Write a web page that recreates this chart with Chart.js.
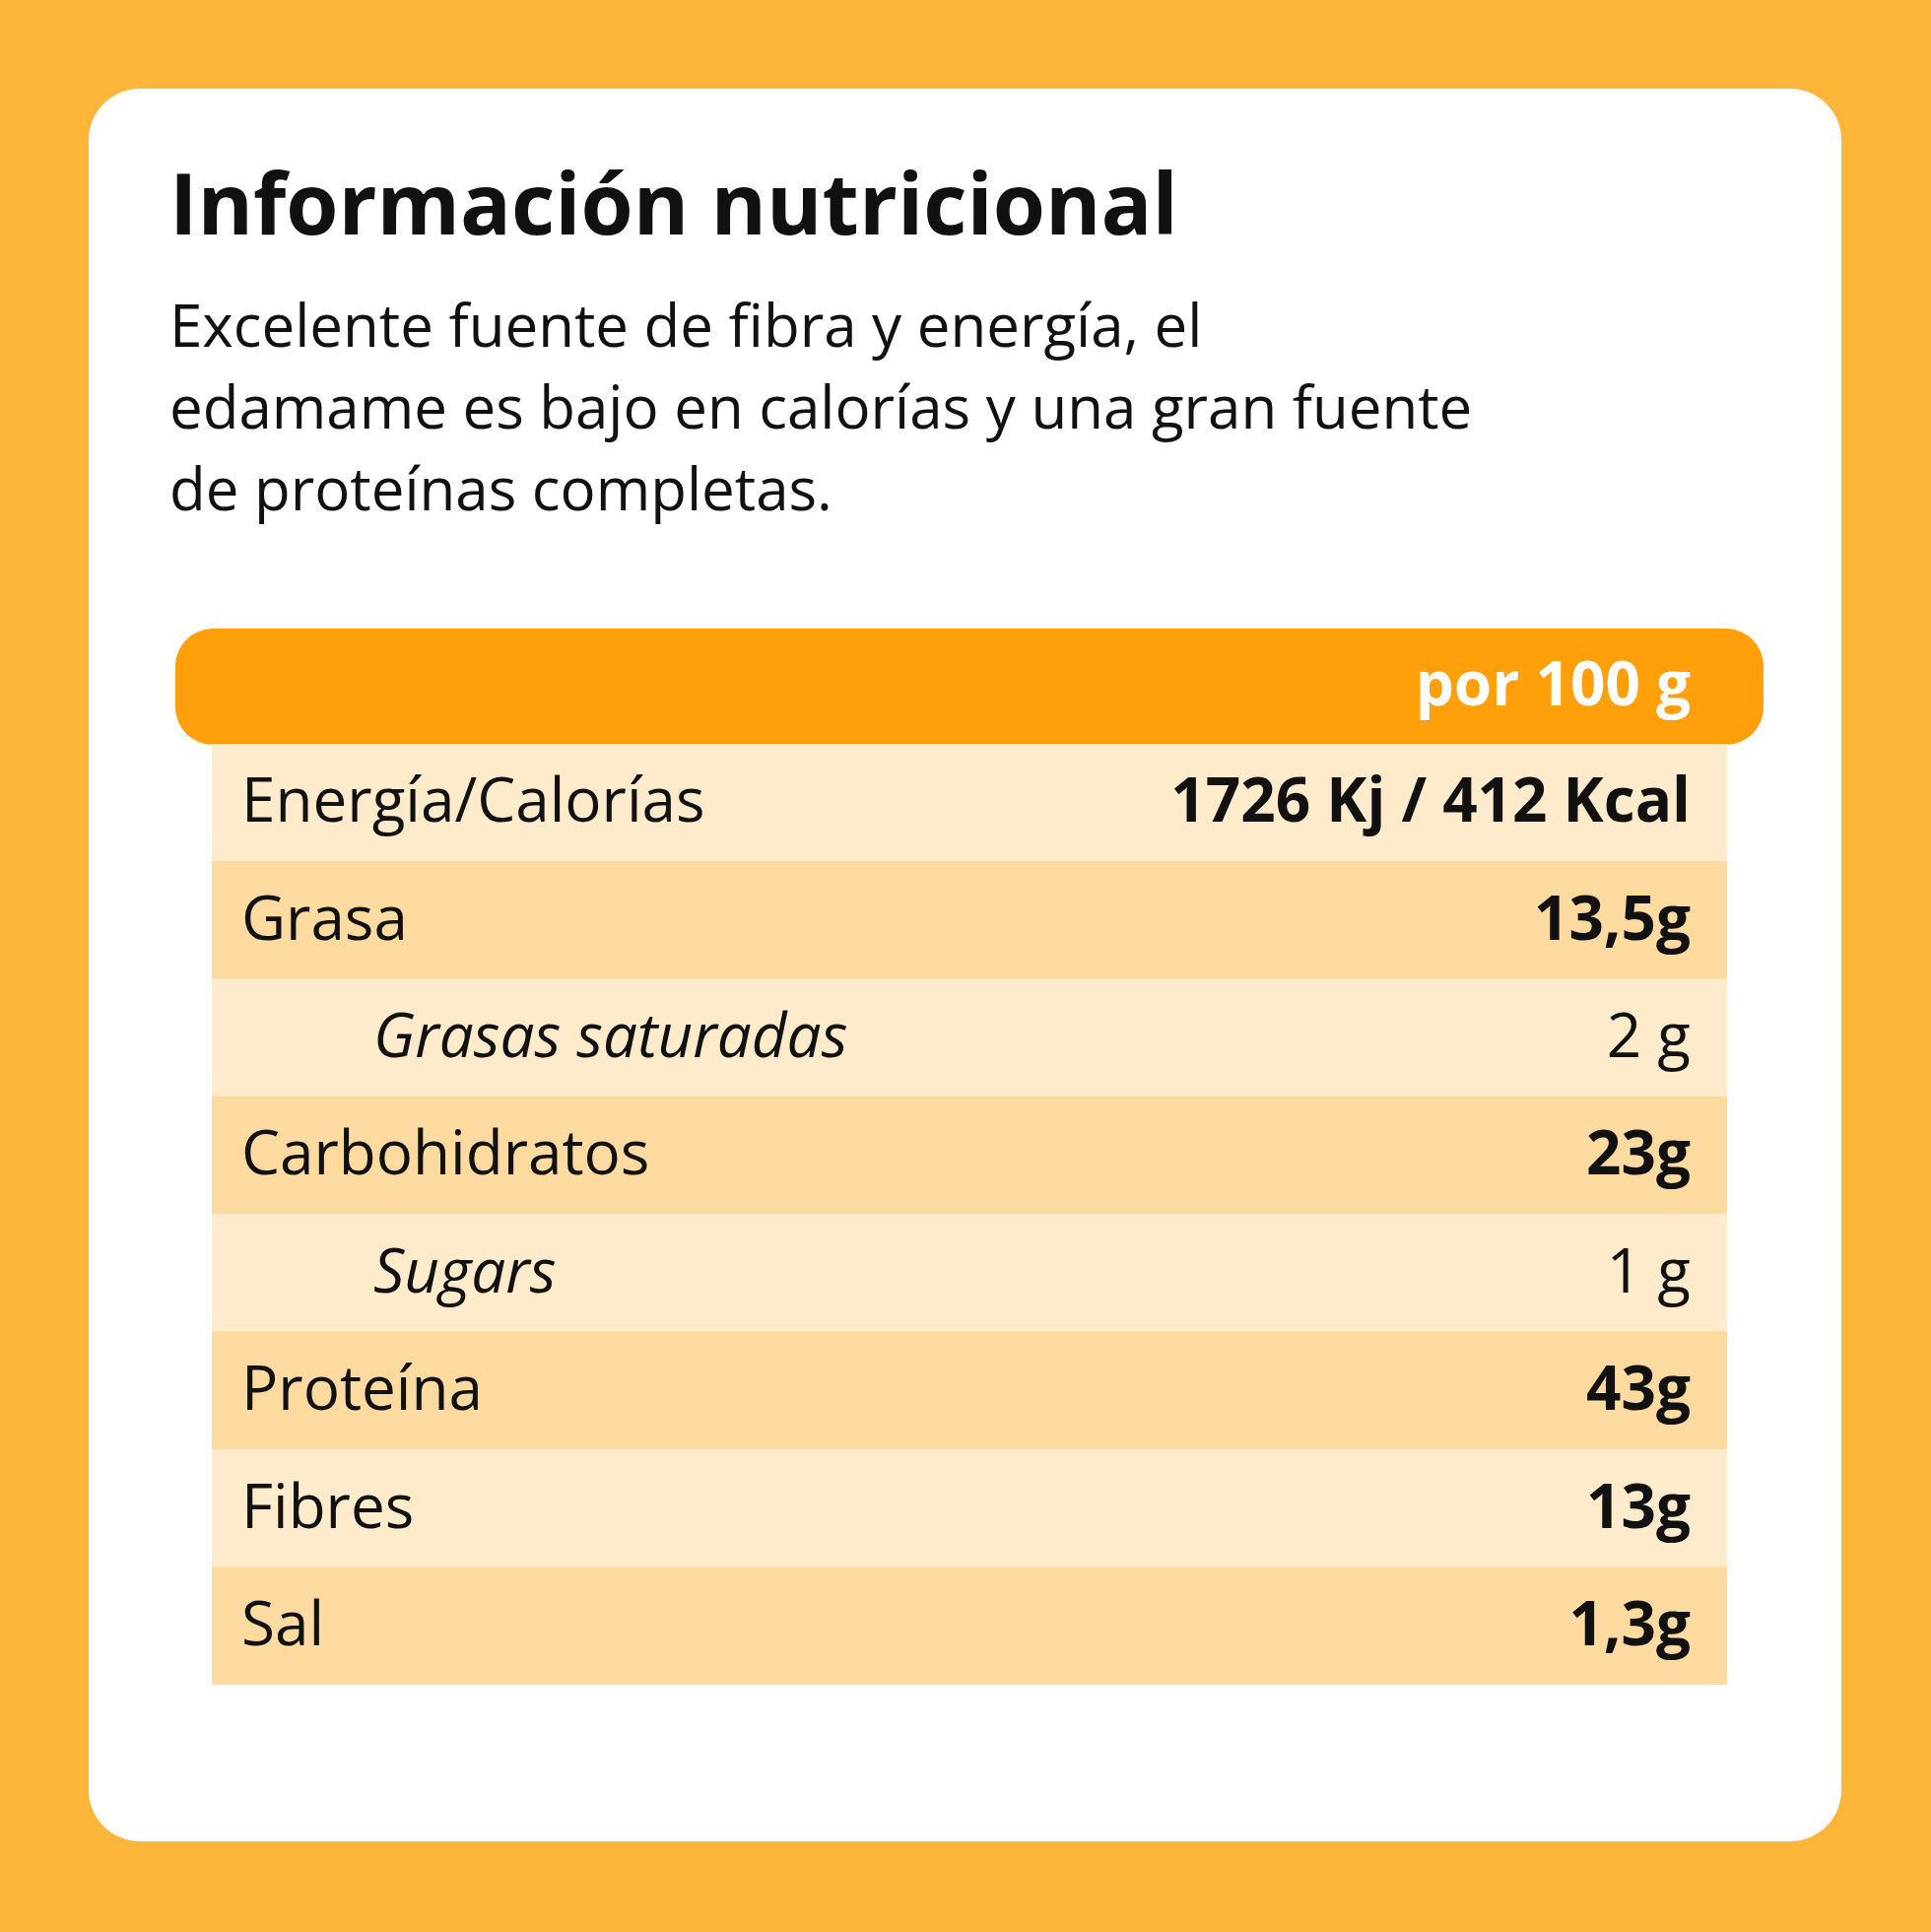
<!DOCTYPE html>
<html><head><meta charset="utf-8">
<script src="https://cdn.jsdelivr.net/npm/chart.js@4"></script>
<style>html,body{margin:0;padding:0;background:#FDB53A;}#w{width:1960px;height:1961px;}</style>
</head><body><div id="w"><canvas id="c" width="1960" height="1961"></canvas></div>
<script>
const title = "Información nutricional";
const subtitleLines = ["Excelente fuente de fibra y energía, el","edamame es bajo en calorías y una gran fuente","de proteínas completas."];
const headerLabel = "por 100 g";
const rowLabels = ["Energía/Calorías","Grasa","Grasas saturadas","Carbohidratos","Sugars","Proteína","Fibres","Sal"];
const rowValues = ["1726 Kj / 412 Kcal","13,5g","2 g","23g","1 g","43g","13g","1,3g"];
const rowSub = [false,false,true,false,true,false,false,false];
const rowFill = rowLabels.map(()=>1);
const FONT = '"Open Sans", sans-serif';

function rr(ctx,x,y,w,h,r){ctx.beginPath();ctx.moveTo(x+r,y);ctx.arcTo(x+w,y,x+w,y+h,r);ctx.arcTo(x+w,y+h,x,y+h,r);ctx.arcTo(x,y+h,x,y,r);ctx.arcTo(x,y,x+w,y,r);ctx.closePath();}

const deco = {
  id:'deco',
  beforeDraw(chart){
    const ctx=chart.ctx;
    ctx.save();
    ctx.fillStyle='#FDB53A';ctx.fillRect(0,0,1960,1961);
    ctx.fillStyle='#FFFFFF';rr(ctx,90,90,1779,1779,52);ctx.fill();
    ctx.fillStyle='#111111';ctx.textBaseline='alphabetic';
    ctx.font='bold 86px '+FONT;ctx.fillText(title,172,238);
    ctx.font='60px '+FONT;
    subtitleLines.forEach((l,i)=>ctx.fillText(l,172,352+i*83));
    ctx.fillStyle='#FF9F0A';rr(ctx,178,638,1612,118,38);ctx.fill();
    ctx.fillStyle='#FFFFFF';ctx.font='bold 62px '+FONT;ctx.textAlign='right';ctx.textBaseline='middle';
    ctx.fillText(headerLabel,1716,698);
    ctx.restore();
  },
  afterDatasetsDraw(chart){
    const ctx=chart.ctx, y=chart.scales.y, ca=chart.chartArea;
    ctx.save();ctx.fillStyle='#111111';ctx.textBaseline='middle';
    rowLabels.forEach((l,i)=>{
      const cy=y.getPixelForValue(i)+2;
      ctx.textAlign='left';
      ctx.font=(rowSub[i]?'italic ':'')+'62px '+FONT;
      ctx.fillText(l,rowSub[i]?379:245,cy);
      ctx.textAlign='right';
      ctx.font=(rowSub[i]?'':'bold ')+'62px '+FONT;
      ctx.fillText(rowValues[i],1716,cy);
    });
    ctx.restore();
  }
};

new Chart(document.getElementById('c'),{
  type:'bar',
  data:{labels:rowLabels,datasets:[{data:rowFill,backgroundColor:rowLabels.map((_,i)=>i%2?'#FDDA9F':'#FEEBCB'),barPercentage:1,categoryPercentage:1,borderWidth:0}]},
  options:{indexAxis:'y',responsive:false,animation:false,devicePixelRatio:1,
    layout:{padding:{left:215,right:207,top:755,bottom:251}},
    plugins:{legend:{display:false},tooltip:{enabled:false}},
    scales:{x:{display:false,min:0,max:1},y:{display:false}}},
  plugins:[deco]
});
</script></body></html>
